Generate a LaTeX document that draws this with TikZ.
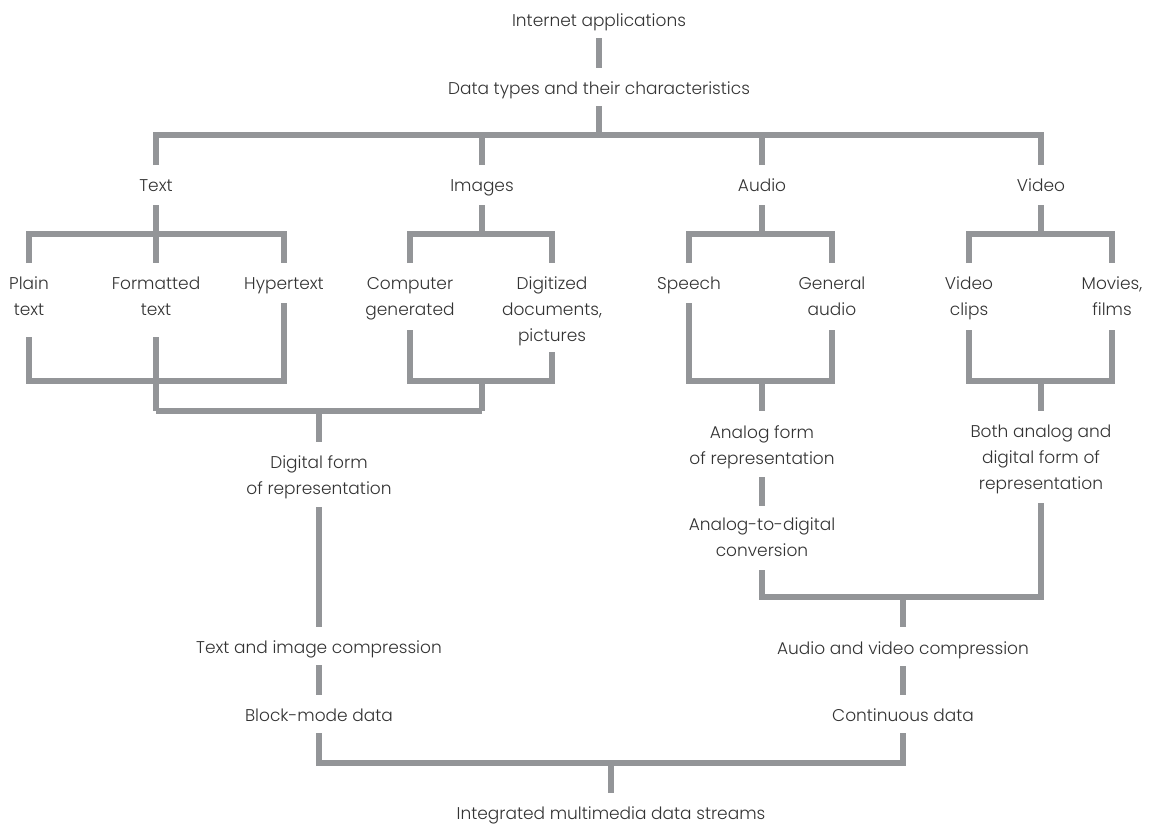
\documentclass[tikz,border=0pt]{standalone}
\usepackage{fontspec}
\setmainfont{Poppins Light}
\usetikzlibrary{calc}
\definecolor{linegray}{HTML}{939598}
\definecolor{textgray}{HTML}{333333}
\newcommand\lblstrut{\rule[-3pt]{0pt}{12pt}}
\begin{document}
\begin{tikzpicture}[x=0.5pt,y=-0.5pt,
  lbl/.style={inner sep=0pt, align=center, text=textgray,
    font=\fontsize{8.5pt}{13pt}\selectfont,
    execute at begin node=\lblstrut, execute at end node=\lblstrut},
  bar/.style={draw=linegray, line width=3pt, line join=miter, line cap=butt}]
\useasboundingbox (0,0) rectangle (1152,825);
% labels
\node[lbl] (ia) at (599,20) {Internet applications};
\node[lbl] (dt) at (599,88) {Data types and their characteristics};
\node[lbl] (text) at (156,185) {Text};
\node[lbl] (images) at (482,185) {Images};
\node[lbl] (audio) at (762,185) {Audio};
\node[lbl] (video) at (1041,185) {Video};
\node[lbl] (plain) at (29,299) {Plain\\text};
\node[lbl] (formatted) at (156,299) {Formatted\\text};
\node[lbl] (hyper) at (284,283) {Hypertext};
\node[lbl] (computer) at (410,299) {Computer\\generated};
\node[lbl] (digitized) at (552,312) {Digitized\\documents,\\pictures};
\node[lbl] (speech) at (689,283) {Speech};
\node[lbl] (general) at (832,299) {General\\audio};
\node[lbl] (clips) at (969,299) {Video\\clips};
\node[lbl] (movies) at (1112,299) {Movies,\\films};
\node[lbl] (digital) at (319,478) {Digital form\\of representation};
\node[lbl] (analog) at (762,448) {Analog form\\of representation};
\node[lbl] (both) at (1041,460) {Both analog and\\digital form of\\representation};
\node[lbl] (atod) at (762,540) {Analog-to-digital\\conversion};
\node[lbl] (tic) at (319,647) {Text and image compression};
\node[lbl] (avc) at (903,648) {Audio and video compression};
\node[lbl] (block) at (319,715) {Block-mode data};
\node[lbl] (cont) at (903,715) {Continuous data};
\node[lbl] (ims) at (611,813) {Integrated multimedia data streams};
% junction coordinates
\coordinate (jtop) at (599,135);
\coordinate (jtext) at (156,234);
\coordinate (jimg) at (482,234);
\coordinate (jaud) at (762,234);
\coordinate (jvid) at (1041,234);
\coordinate (jtextb) at (156,381);
\coordinate (jimgb) at (482,381);
\coordinate (jaudb) at (762,381);
\coordinate (jvidb) at (1041,381);
\coordinate (jdig) at (319,411);
\coordinate (jav) at (903,597);
\coordinate (jout) at (611,763);
% connectors
\draw[bar] ($(ia)+(0,18)$) -- ($(dt)+(0,-20)$);
\draw[bar] ($(dt)+(0,18)$) -- (jtop);
\draw[bar] ($(text)+(0,-20)$) |- (jtop) -| ($(video)+(0,-20)$);
\draw[bar] ($(images)+(0,-20)$) -- (images |- jtop);
\draw[bar] ($(audio)+(0,-20)$) -- (audio |- jtop);
% text group
\draw[bar] ($(text)+(0,20)$) -- ($(formatted)+(0,-36)$);
\draw[bar] ($(plain)+(0,-36)$) |- (jtext) -| ($(hyper)+(0,-20)$);
\draw[bar] ($(plain)+(0,38)$) |- (jtextb) -| ($(hyper)+(0,20)$);
\draw[bar] ($(formatted)+(0,38)$) -- (formatted |- jdig);
% images group
\draw[bar] ($(images)+(0,20)$) -- (jimg);
\draw[bar] ($(computer)+(0,-36)$) |- (jimg) -| ($(digitized)+(0,-49)$);
\draw[bar] ($(computer)+(0,31)$) |- (jimgb) -| ($(digitized)+(0,40)$);
\draw[bar] (jimgb) -- (images |- jdig);
\draw[bar] (formatted |- jdig) -- (images |- jdig);
\draw[bar] (jdig) -- ($(digital)+(0,-36)$);
\draw[bar] ($(digital)+(0,29)$) -- ($(tic)+(0,-20)$);
\draw[bar] ($(tic)+(0,18)$) -- ($(block)+(0,-20)$);
% audio group
\draw[bar] ($(audio)+(0,20)$) -- (jaud);
\draw[bar] ($(speech)+(0,-20)$) |- (jaud) -| ($(general)+(0,-36)$);
\draw[bar] ($(speech)+(0,20)$) |- (jaudb) -| ($(general)+(0,31)$);
\draw[bar] (jaudb) -- ($(analog)+(0,-37)$);
\draw[bar] ($(analog)+(0,29)$) -- ($(atod)+(0,-34)$);
% video group
\draw[bar] ($(video)+(0,20)$) -- (jvid);
\draw[bar] ($(clips)+(0,-36)$) |- (jvid) -| ($(movies)+(0,-36)$);
\draw[bar] ($(clips)+(0,31)$) |- (jvidb) -| ($(movies)+(0,31)$);
\draw[bar] (jvidb) -- ($(both)+(0,-49)$);
% audio/video merge
\draw[bar] ($(atod)+(0,30)$) |- (jav) -| ($(both)+(0,43)$);
\draw[bar] (jav) -- ($(avc)+(0,-21)$);
\draw[bar] ($(avc)+(0,18)$) -- ($(cont)+(0,-20)$);
% output
\draw[bar] ($(block)+(0,18)$) |- (jout) -| ($(cont)+(0,18)$);
\draw[bar] (jout) -- ($(ims)+(0,-20)$);
\end{tikzpicture}
\end{document}
